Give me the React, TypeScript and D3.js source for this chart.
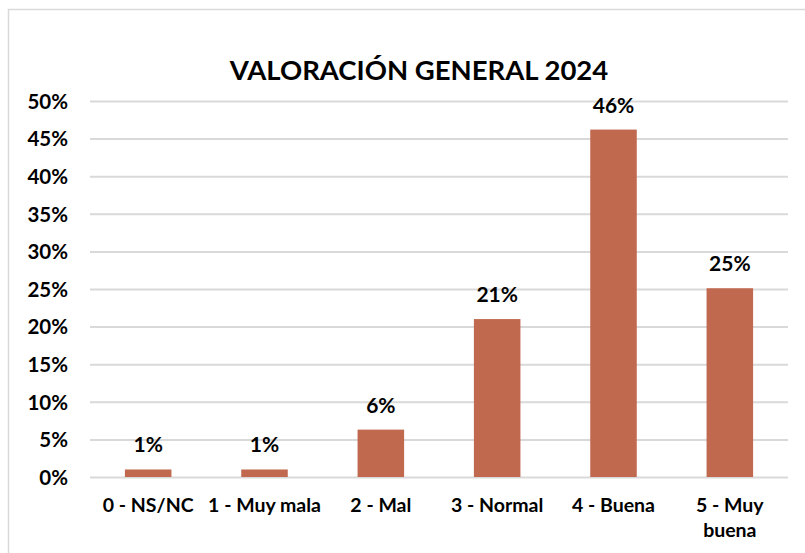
import React, { useEffect, useRef } from 'react';
import { select, scaleLinear, scaleBand, axisLeft, range } from 'd3';

const categories = ['0 - NS/NC', '1 - Muy mala', '2 - Mal', '3 - Normal', '4 - Buena', '5 - Muy buena'];
const values = [1.0, 1.0, 6.3, 21.0, 46.2, 25.1];
const labels = ['1%', '1%', '6%', '21%', '46%', '25%'];
const yTicks = range(0, 51, 5);

const FONT = 'Lato, "Open Sans", sans-serif';

const App = () => {
  const ref = useRef<SVGSVGElement>(null);

  useEffect(() => {
    const svg = select(ref.current);
    svg.selectAll('*').remove();

    const width = 805;
    const height = 553;
    const margin = { top: 101, right: 17, bottom: 76, left: 90 };
    const innerWidth = width - margin.left - margin.right;
    const innerHeight = height - margin.top - margin.bottom;

    // chart frame, runs off the right and bottom of the picture
    svg.append('rect')
      .attr('x', 8.5).attr('y', 9.5)
      .attr('width', 830).attr('height', 570)
      .attr('fill', '#fff')
      .attr('stroke', '#d9d9d9')
      .attr('stroke-width', 1.5);

    svg.append('text')
      .attr('x', 419).attr('y', 80)
      .attr('text-anchor', 'middle')
      .attr('font-family', FONT)
      .attr('font-weight', 700)
      .attr('font-size', 27.5)
      .attr('fill', '#000')
      .text('VALORACIÓN GENERAL 2024');

    const xScale = scaleBand()
      .domain(categories)
      .range([0, innerWidth])
      .paddingInner(0.6)
      .paddingOuter(0.3);

    const yScale = scaleLinear()
      .domain([0, 50])
      .range([innerHeight, 0]);

    const g = svg.append('g')
      .attr('transform', `translate(${margin.left},${margin.top})`);

    // gridlines + y labels
    const yAxis = g.append('g')
      .call(axisLeft(yScale).tickValues(yTicks).tickSize(-innerWidth).tickFormat(d => `${d}%`).tickPadding(22));
    yAxis.select('.domain').remove();
    yAxis.selectAll('line').attr('stroke', '#d9d9d9').attr('stroke-width', 2);
    yAxis.selectAll('text')
      .attr('font-family', FONT)
      .attr('font-weight', 700)
      .attr('font-size', 20.5)
      .attr('fill', '#000')
      .attr('dy', '0.36em');

    g.selectAll('.bar')
      .data(values)
      .enter()
      .append('rect')
        .attr('class', 'bar')
        .attr('x', (d, i) => xScale(categories[i]))
        .attr('y', d => yScale(d))
        .attr('width', xScale.bandwidth())
        .attr('height', d => innerHeight - yScale(d))
        .attr('fill', '#c0694e');

    g.selectAll('.val')
      .data(values)
      .enter()
      .append('text')
        .attr('class', 'val')
        .attr('x', (d, i) => xScale(categories[i]) + xScale.bandwidth() / 2)
        .attr('y', d => yScale(d) - 17)
        .attr('text-anchor', 'middle')
        .attr('font-family', FONT)
        .attr('font-weight', 700)
        .attr('font-size', 21)
        .attr('fill', '#000')
        .text((d, i) => labels[i]);

    // category labels, last one wraps like in the original
    const catLines = [['0 - NS/NC'], ['1 - Muy mala'], ['2 - Mal'], ['3 - Normal'], ['4 - Buena'], ['5 - Muy', 'buena']];
    const cat = g.selectAll('.cat')
      .data(categories)
      .enter()
      .append('text')
        .attr('class', 'cat')
        .attr('x', d => xScale(d) + xScale.bandwidth() / 2)
        .attr('y', innerHeight + 35)
        .attr('text-anchor', 'middle')
        .attr('font-family', FONT)
        .attr('font-weight', 700)
        .attr('font-size', 19.5)
        .attr('fill', '#000');
    cat.each(function (d, i) {
      const t = select(this);
      catLines[i].forEach((line, j) => {
        t.append('tspan')
          .attr('x', xScale(d) + xScale.bandwidth() / 2)
          .attr('dy', j === 0 ? 0 : 25)
          .text(line);
      });
    });
  }, []);

  return (
    <svg ref={ref} width="805" height="553" style={{ position: 'absolute', left: 0, top: 0 }}></svg>
  );
};

export default App;
